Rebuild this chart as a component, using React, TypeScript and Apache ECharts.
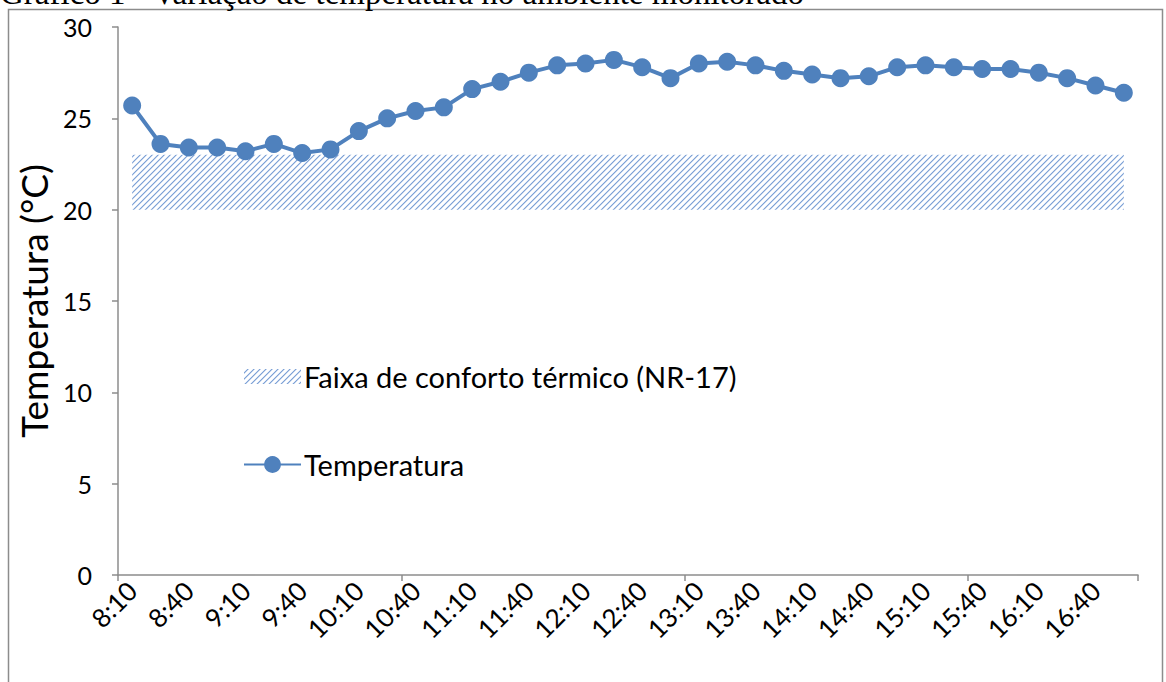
import React, { useEffect, useRef } from "react";
import * as echarts from "echarts";

const categories = [
  "8:10", "8:25", "8:40", "8:55", "9:10", "9:25", "9:40", "9:55",
  "10:10", "10:25", "10:40", "10:55", "11:10", "11:25", "11:40", "11:55",
  "12:10", "12:25", "12:40", "12:55", "13:10", "13:25", "13:40", "13:55",
  "14:10", "14:25", "14:40", "14:55", "15:10", "15:25", "15:40", "15:55",
  "16:10", "16:25", "16:40", "16:55",
];

const temperatura = [
  25.7, 23.6, 23.4, 23.4, 23.2, 23.6, 23.1, 23.3,
  24.3, 25.0, 25.4, 25.6, 26.6, 27.0, 27.5, 27.9,
  28.0, 28.2, 27.8, 27.2, 28.0, 28.1, 27.9, 27.6,
  27.4, 27.2, 27.3, 27.8, 27.9, 27.8, 27.7, 27.7,
  27.5, 27.2, 26.8, 26.4,
];

const faixaBase = categories.map(() => 20);
const faixaLargura = categories.map(() => 3);

const yTicks = { min: 0, max: 30, interval: 5 };

const FONT = "Lato, 'Open Sans', sans-serif";

function makeHatch(): HTMLCanvasElement {
  const n = 6;
  const c = document.createElement("canvas");
  c.width = n;
  c.height = n;
  const ctx = c.getContext("2d")!;
  ctx.fillStyle = "#ffffff";
  ctx.fillRect(0, 0, n, n);
  for (let y = 0; y < n; y++) {
    for (let x = 0; x < n; x++) {
      const d = (x + y) % n;
      if (d === 0) {
        ctx.fillStyle = "#7ea2d6";
        ctx.fillRect(x, y, 1, 1);
      } else if (d === 1) {
        ctx.fillStyle = "#c6d6ee";
        ctx.fillRect(x, y, 1, 1);
      } else if (d === n - 1) {
        ctx.fillStyle = "#e3ebf7";
        ctx.fillRect(x, y, 1, 1);
      }
    }
  }
  return c;
}

export default function App() {
  const ref = useRef<HTMLDivElement>(null);

  useEffect(() => {
    if (!ref.current) return;
    const chart = echarts.init(ref.current, null, { renderer: "svg" });
    const hatch: any = { image: makeHatch(), repeat: "repeat", imageWidth: 6, imageHeight: 6 };

    chart.setOption({
      animation: false,
      backgroundColor: "#ffffff",
      grid: { left: 118, right: 28, top: 27, bottom: 107, containLabel: false },
      graphic: [
        {
          type: "rect",
          z: -10,
          shape: { x: 8.5, y: 9.5, width: 1154, height: 700 },
          style: { fill: "none", stroke: "#8c8c8c", lineWidth: 1.5 },
        },
        {
          type: "text",
          left: 0,
          top: -24,
          style: {
            text: "Gráfico 1 - Variação de temperatura no ambiente monitorado",
            font: "33px 'Liberation Serif', 'Times New Roman', serif",
            fill: "#000",
          },
        },
      ],
      legend: {
        orient: "vertical",
        left: 243,
        top: 362,
        padding: 0,
        itemWidth: 57,
        itemHeight: 21,
        itemGap: 59,
        textStyle: { fontFamily: FONT, fontSize: 29, color: "#000", padding: [0, 0, 0, -2] },
        data: [
          {
            name: "Faixa de conforto térmico (NR-17)",
            icon: "path://M0,0 L0.01,0 L0,0.01 Z M0,3 L57,3 L57,18 L0,18 Z M57,21 L56.99,21 L57,20.99 Z",
            itemStyle: { color: hatch, borderWidth: 0 },
          },
          { name: "Temperatura" },
        ],
      },
      xAxis: {
        type: "category",
        data: categories,
        boundaryGap: true,
        axisLine: { lineStyle: { color: "#8c8c8c", width: 1.5 } },
        axisTick: { show: true, interval: 9, length: 6, lineStyle: { color: "#8c8c8c", width: 1.5 } },
        axisLabel: {
          interval: 1,
          rotate: 45,
          fontFamily: FONT,
          fontSize: 26,
          color: "#000",
          margin: 11,
        },
        splitLine: { show: false },
      },
      yAxis: {
        type: "value",
        min: yTicks.min,
        max: yTicks.max,
        interval: yTicks.interval,
        name: "Temperatura (°C)",
        nameLocation: "middle",
        nameGap: 56,
        nameRotate: 90,
        nameTextStyle: { fontFamily: FONT, fontSize: 37, color: "#000" },
        axisLine: { show: true, lineStyle: { color: "#8c8c8c", width: 1.5 } },
        axisTick: { show: true, length: 6, lineStyle: { color: "#8c8c8c", width: 1.5 } },
        axisLabel: { fontFamily: FONT, fontSize: 25, color: "#000", margin: 26 },
        splitLine: { show: false },
      },
      series: [
        {
          name: "base",
          type: "line",
          stack: "faixa",
          data: faixaBase,
          showSymbol: false,
          symbol: "none",
          lineStyle: { width: 0, opacity: 0 },
          silent: true,
          z: 1,
        },
        {
          name: "Faixa de conforto térmico (NR-17)",
          type: "line",
          stack: "faixa",
          data: faixaLargura,
          showSymbol: false,
          symbol: "none",
          lineStyle: { width: 0, opacity: 0 },
          itemStyle: { color: "#7ea2d6" },
          areaStyle: { color: hatch, opacity: 1 },
          silent: true,
          z: 1,
        },
        {
          name: "Temperatura",
          type: "line",
          data: temperatura,
          symbol: "circle",
          symbolSize: 18,
          showAllSymbol: true,
          lineStyle: { color: "#4f81bd", width: 4 },
          itemStyle: { color: "#4f81bd" },
          z: 3,
        },
      ],
    });
    return () => chart.dispose();
  }, []);

  return <div ref={ref} style={{ width: 1166, height: 682, position: "absolute", left: 0, top: 0 }} />;
}
